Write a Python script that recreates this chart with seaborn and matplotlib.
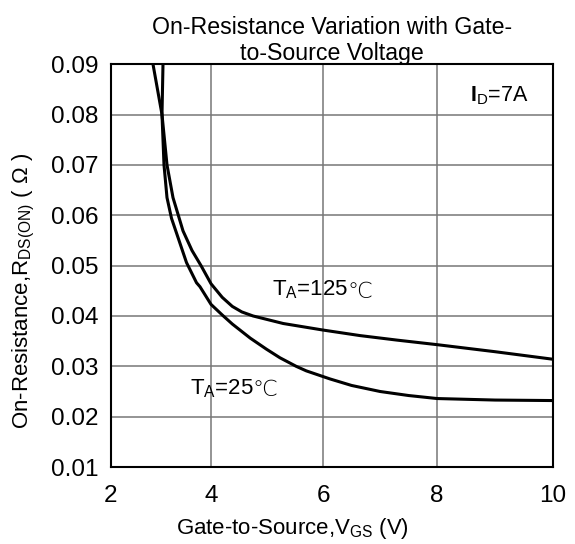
import numpy as np
import pandas as pd
import seaborn as sns
import matplotlib.pyplot as plt

# valores
vgs_25 = [3.04, 3.02, 3.06, 3.12, 3.21, 3.35, 3.51, 3.71, 3.78, 4.0, 4.2, 4.38, 4.70, 4.99, 5.23, 5.52, 5.70, 6.12, 6.50, 7.0, 7.5, 8.0, 9.0, 10.0]
rds_25 = [0.090, 0.080, 0.070, 0.0635, 0.0594, 0.0553, 0.0506, 0.0466, 0.0458, 0.0423, 0.0402, 0.0384, 0.0356, 0.0334, 0.0317, 0.0300, 0.0291, 0.0275, 0.0262, 0.0250, 0.0242, 0.0236, 0.0233, 0.0232]

vgs_125 = [2.84, 3.02, 3.12, 3.24, 3.44, 3.62, 3.80, 4.0, 4.2, 4.38, 4.55, 4.75, 5.29, 6.0, 6.65, 7.3, 8.0, 9.0, 10.0]
rds_125 = [0.090, 0.080, 0.070, 0.0635, 0.0569, 0.0530, 0.0500, 0.0464, 0.0437, 0.0419, 0.0408, 0.0400, 0.0385, 0.0372, 0.0361, 0.0352, 0.0343, 0.0329, 0.0314]

x_ticks = [2, 4, 6, 8, 10]
y_ticks = [0.01, 0.02, 0.03, 0.04, 0.05, 0.06, 0.07, 0.08, 0.09]

df = pd.concat([
    pd.DataFrame({"vgs": vgs_25, "rds": rds_25, "curva": "25"}),
    pd.DataFrame({"vgs": vgs_125, "rds": rds_125, "curva": "125"}),
])

sns.set_style("white")
plt.rcParams["font.family"] = ["Liberation Sans", "DejaVu Sans"]
plt.rcParams["mathtext.fontset"] = "custom"
plt.rcParams["mathtext.rm"] = "Liberation Sans"
plt.rcParams["mathtext.bf"] = "Liberation Sans:bold"
plt.rcParams["text.color"] = "black"
plt.rcParams["axes.labelcolor"] = "black"
plt.rcParams["xtick.color"] = "black"
plt.rcParams["ytick.color"] = "black"

fig = plt.figure(figsize=(5.75, 5.44), dpi=100)
ax = fig.add_axes([0.193, 0.1415, 0.769, 0.7405])

# el eje x del original no es uniforme (las divisiones no miden lo mismo)
x_pos = [0, 100, 212, 326, 442]
ax.set_xscale("function", functions=(lambda v: np.interp(v, x_ticks, x_pos),
                                      lambda p: np.interp(p, x_pos, x_ticks)))

sns.lineplot(data=df, x="vgs", y="rds", hue="curva", palette=["black", "black"],
             sort=False, linewidth=2.2, legend=False, ax=ax)

ax.set_xlim(2, 10)
ax.set_ylim(0.01, 0.09)
ax.set_xticks(x_ticks)
ax.set_yticks(y_ticks)
ax.set_xticklabels([str(t) for t in x_ticks])
ax.set_yticklabels([f"{t:.2f}" for t in y_ticks])
ax.tick_params(length=0, labelsize=17.5, colors="black")
ax.tick_params(axis="x", pad=13)
ax.tick_params(axis="y", pad=9)
ax.minorticks_off()
ax.grid(True, color="#767676", linewidth=1.1)
for s in ax.spines.values():
    s.set_color("black")
    s.set_linewidth(1.5)

ax.set_xlabel(r"Gate-to-Source,V$_\mathregular{GS}$ (V)", fontsize=16, color="black")
ax.set_ylabel(r"On-Resistance,R$_\mathregular{DS(ON)}$ ( Ω )", fontsize=16, color="black")
ax.xaxis.set_label_coords(0.41, -0.122)
ax.yaxis.set_label_coords(-0.168, 0.437)
ax.set_title("On-Resistance Variation with Gate-\nto-Source Voltage", fontsize=16.7, pad=3,
             linespacing=1.15, color="black")

ax.text(8.57, 0.0837, r"$\mathbf{I}_\mathregular{D}$=7A", fontsize=15.5, ha="left", va="center")

t125 = ax.text(5.09, 0.0452, r"T$_\mathregular{A}$=125", fontsize=16, ha="left", va="center")
ax.annotate("℃", xy=(0.985, 0.42), xycoords=t125, va="center", ha="left",
            fontsize=16, family="DejaVu Sans", fontweight="light")
t25 = ax.text(3.58, 0.0256, r"T$_\mathregular{A}$=25", fontsize=16, ha="left", va="center")
ax.annotate("℃", xy=(0.985, 0.42), xycoords=t25, va="center", ha="left",
            fontsize=16, family="DejaVu Sans", fontweight="light")

fig.savefig("out.png", dpi=100)
